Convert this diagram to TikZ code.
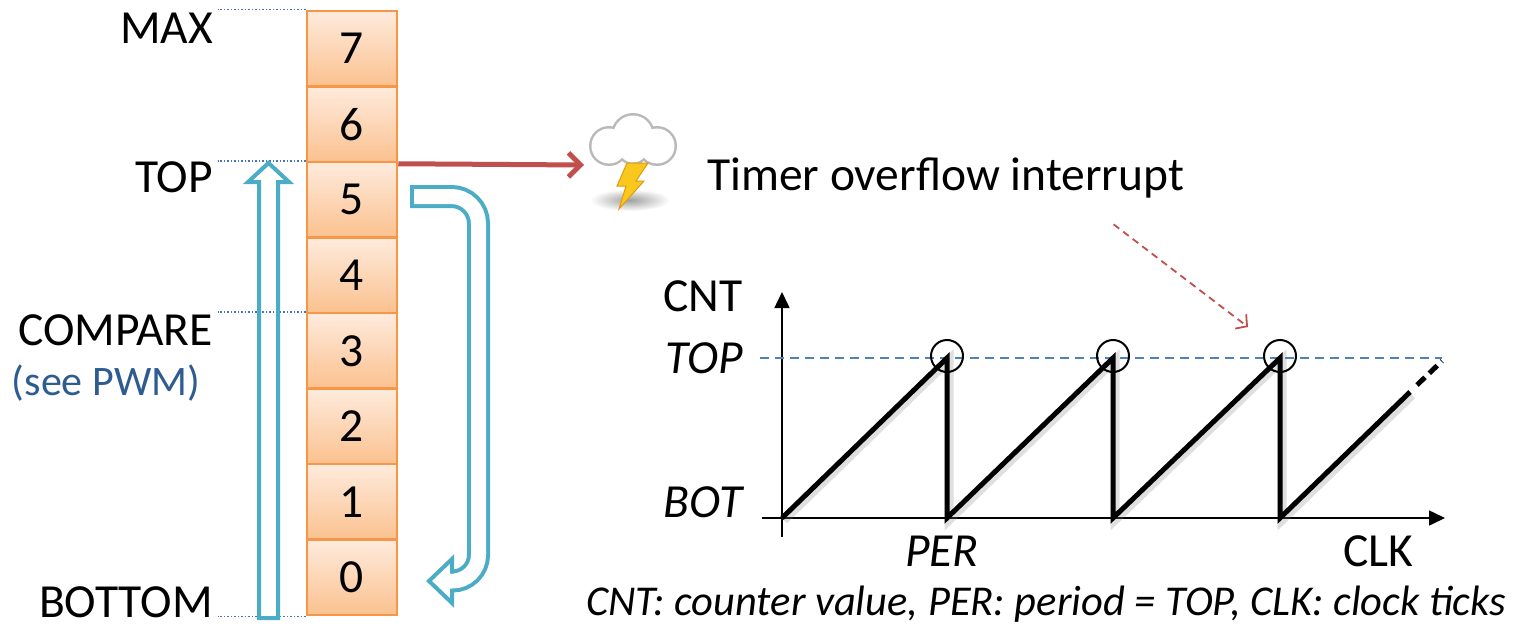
\documentclass[tikz,border=0pt]{standalone}
\usepackage{fontspec}
\setmainfont{Carlito}
\usetikzlibrary{arrows.meta}

\definecolor{cellline}{HTML}{F79646}
\definecolor{celltop}{HTML}{FEEBDD}
\definecolor{cellbot}{HTML}{FBC18F}
\definecolor{guideblue}{HTML}{4472C4}
\definecolor{flowblue}{HTML}{4BACC6}
\definecolor{alarmred}{HTML}{C0504D}
\definecolor{levelblue}{HTML}{4F81BD}
\definecolor{notecolor}{HTML}{2E5C91}
\definecolor{boltyellow}{HTML}{F8C81C}
\definecolor{boltedge}{HTML}{E39A12}

\begin{document}
\begin{tikzpicture}[
    x=1pt, y=-1pt,
    font=\fontsize{47.5}{52}\selectfont,
	cell/.style={
	  rectangle,
	  line width=2.5pt,
	  draw=cellline,
	  top color=celltop,
	  bottom color=cellbot,
	  minimum width=90pt,
	  minimum height=75.5pt,
	  inner sep=0pt
	},
	label/.style={inner sep=0pt, anchor=east},
	guide/.style={draw=guideblue, line width=1.5pt, dotted},
	flow/.style={draw=flowblue, line width=4pt},
	alarm/.style={draw=alarmred, line width=5pt, -{Straight Barb[length=12pt,width=24pt]}},
	hint/.style={draw=alarmred, line width=1.8pt, dash pattern=on 7pt off 5pt, -{Straight Barb[length=8pt,width=18pt]}},
	axis/.style={draw, line width=1.5pt, -{Triangle[length=16pt,width=15pt]}},
	saw/.style={draw, line width=5pt, line join=miter},
 	level/.style={draw=levelblue, line width=1.5pt, dash pattern=on 9pt off 6pt}
	]
	\useasboundingbox (0,0) rectangle (1525,626);

	% register cells
	\node [cell] at (352, 48.75) (c7) {7};
	\node [cell] at (352, 124.25) (c6) {6};
	\node [cell] at (352, 199.75) (c5) {5};
	\node [cell] at (352, 275.25) (c4) {4};
	\node [cell] at (352, 350.75) (c3) {3};
	\node [cell] at (352, 426.25) (c2) {2};
	\node [cell] at (352, 501.75) (c1) {1};
	\node [cell] at (352, 577.25) (c0) {0};

	% level names
	\node [label] at (213, 28) (max) {MAX};
	\node [label] at (213, 177) (top) {TOP};
	\node [label] at (213, 330) (cmp) {COMPARE};
	\node [inner sep=0pt, text=notecolor, font=\fontsize{42}{46}\selectfont] at (106, 383) (pwm) {(see PWM)};
	\node [label] at (213, 602) (bottom) {BOTTOM};
	\path[guide] (c7.north west) -- ([xshift=5pt]max.east |- c7.north west);
	\path[guide] (c5.north west) -- ([xshift=5pt]top.east |- c5.north west);
	\path[guide] (c3.north west) -- ([xshift=5pt]cmp.east |- c3.north west);
	\path[guide] (c0.south west) -- ([xshift=5pt]bottom.east |- c0.south west);

	% counting up, wrapping round
	\draw[flow] (259,618) -- (259,182) -- (248,182) -- (268.5,163) -- (289,182) -- (278,182) -- (278,618) -- cycle;
	\draw[flow, double=white, double distance=15pt] (410,196.5) [rounded corners=27pt] -- (478.5,196.5) [rounded corners=26pt] -- (478.5,581) -- (452,581);
	\draw[flow] (412,185) -- (412,208);
	\draw[flow, line join=miter] (452,573.5) -- (452,559) -- (429,581) -- (452,603) -- (452,588.5);

	% interrupt
	\coordinate (storm) at (584,165);
	\draw[alarm] ([yshift=-3pt]c5.north east) -- (storm);
	\shade[inner color=gray!75, outer color=white] (630,200) ellipse (40pt and 11pt);
	\fill[gray!55] (609,146) circle (20) (633,135) circle (22) (657,146) circle (20) (633,148) circle (17);
	\fill[white] (609,146) circle (17.5) (633,135) circle (19.5) (657,146) circle (17.5) (633,148) circle (14.5);
	\filldraw[fill=boltyellow, draw=boltedge, line width=1pt] (627,163) -- (648,163) -- (636,181) -- (644,181) -- (619,209) -- (626,186) -- (617,186) -- cycle;
	\node [anchor=west, inner sep=0pt] at (707,178) (irq) {Timer overflow interrupt};
	\coordinate (hit) at (1248,327);
	\draw[hint] ([xshift=168pt,yshift=-26pt]irq.south) -- (hit);

	% counter plot
	\draw[axis] (782,537) -- (782,292);
	\draw[axis] (762,518) -- (1445,518);
	\draw[level] (760,358) -- (1442,358);
	\draw[saw, gray, opacity=0.25, line width=9pt, xshift=2pt, yshift=-2pt] (782,518) -- (947,358) -- (947,518) -- (1113,358) -- (1113,518) -- (1280,358) -- (1280,518) -- (1410,393);
	\draw[saw] (782,518) -- (947,358) -- (947,518) -- (1113,358) -- (1113,518) -- (1280,358) -- (1280,518) -- (1410,392);
	\draw[saw, dash pattern=on 11pt off 6pt] (1417,385) -- (1442,361);
	\draw[line width=2pt] (947,356) circle (16);
	\draw[line width=2pt] (1113,356) circle (16);
	\draw[line width=2pt] (1280,356) circle (16);
	\node [label] at (743,296) (cnt) {CNT};
	\node [label, font=\fontsize{47.5}{52}\selectfont\itshape] at (743,358) (ptop) {TOP};
	\node [label, font=\fontsize{47.5}{52}\selectfont\itshape] at (743,502) (pbot) {BOT};
	\node [inner sep=0pt, font=\fontsize{47.5}{52}\selectfont\itshape] at (942,551) (per) {PER};
	\node [inner sep=0pt] at (1378,551) (clk) {CLK};
	\node [inner sep=0pt, font=\fontsize{42.5}{46}\selectfont\itshape] at (1046,604) (note) {CNT: counter value, PER: period = TOP, CLK: clock ticks};
  \end{tikzpicture}
\end{document}
